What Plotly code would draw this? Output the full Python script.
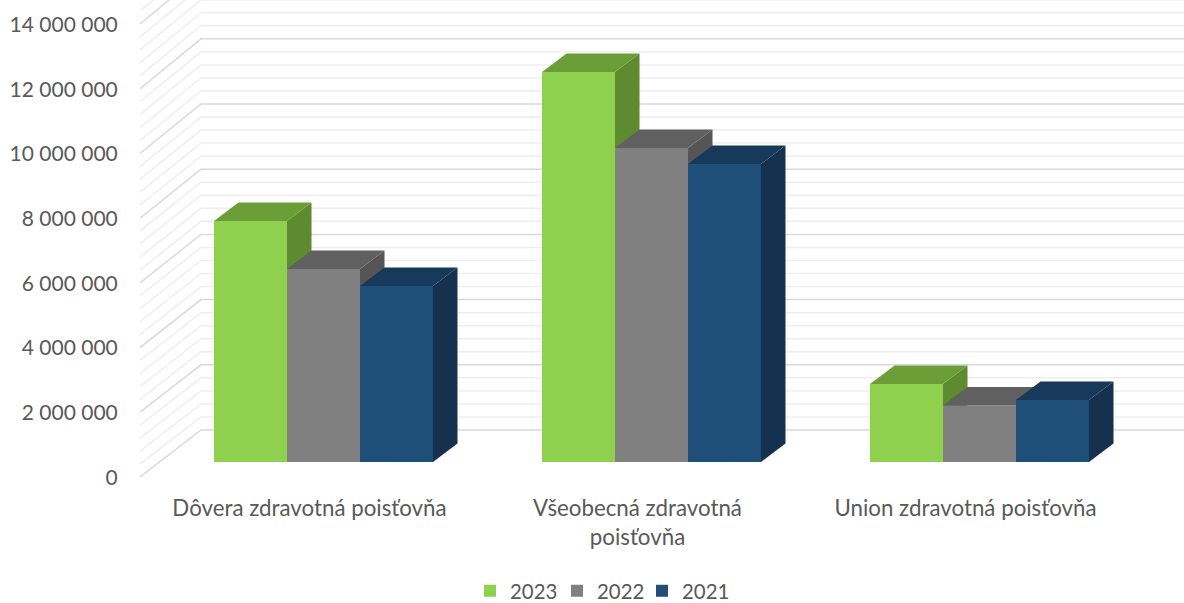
import plotly.graph_objects as go

categories = ["Dôvera zdravotná poisťovňa", "Všeobecná zdravotná<br>poisťovňa", "Union zdravotná poisťovňa"]
series_names = ["2023", "2022", "2021"]
values_2023 = [7390000, 11960000, 2390000]
values_2022 = [5920000, 9630000, 1730000]
values_2021 = [5400000, 9140000, 1900000]
y_ticks = [0, 2000000, 4000000, 6000000, 8000000, 10000000, 12000000, 14000000]
y_tick_labels = ["0", "2 000 000", "4 000 000", "6 000 000", "8 000 000", "10 000 000", "12 000 000", "14 000 000"]
minor_grid = [v for v in range(0, 16000000, 400000) if v % 2000000 != 0]
major_grid = list(range(0, 16000000, 2000000))
front_colors = ["#8FD14F", "#808080", "#1F4E79"]
top_colors = ["#6C9E38", "#606060", "#173A5B"]
side_colors = ["#5E8A30", "#555555", "#15314F"]

W, H = 1184, 603
LEFT, BOTTOM = 140, 480
BAR_SCALE = 32.6 / 1e6    # px per unit on the bars and on the back wall
FRONT_SCALE = 32.36 / 1e6  # px per unit on the value-axis edge
CAT_PX = 328.0

# axis ranges
label_centre = 309.5
bar_centre = 323.5
label_zero = 477.5   # pixel of the value-axis zero, including the label baseline nudge
edge_zero = 477      # pixel where the floor's front edge starts
wall_zero = 430      # pixel of the back wall's zero line
main_x = [(LEFT - label_centre) / CAT_PX, (W - label_centre) / CAT_PX]
bar_x = [(LEFT - bar_centre) / CAT_PX, (W - bar_centre) / CAT_PX]
main_y = [(label_zero - BOTTOM) / FRONT_SCALE, label_zero / FRONT_SCALE]
bar_y = [(462 - BOTTOM) / BAR_SCALE, 462 / BAR_SCALE]

bar_w = 73.0 / CAT_PX
depth_x = 24.5 / CAT_PX
depth_y = 18.5 / BAR_SCALE
wall_x = (201 - label_centre) / CAT_PX

fig = go.Figure()


def grid_trace(levels, colour, width):
    xs, ys = [], []
    for v in levels:
        front = (label_zero - edge_zero) / FRONT_SCALE + v
        back = (label_zero - wall_zero) / FRONT_SCALE + v * BAR_SCALE / FRONT_SCALE
        xs += [main_x[0], wall_x, main_x[1], None]
        ys += [front, back, back, None]
    return go.Scatter(x=xs, y=ys, mode="lines", line=dict(color=colour, width=width),
                      showlegend=False, hoverinfo="skip", xaxis="x", yaxis="y")


fig.add_trace(grid_trace(minor_grid, "#EEEEEE", 1.5))
fig.add_trace(grid_trace(major_grid, "#D9D9D9", 1.5))

all_values = [values_2023, values_2022, values_2021]
legend_ids = ["legend", "legend2", "legend3"]
for s, vals in enumerate(all_values):
    xa, ya = f"x{s + 2}", f"y{s + 2}"
    offset = (-1.5 + s) * bar_w
    fig.add_trace(go.Bar(x=[0, 1, 2], y=vals, name=series_names[s], width=bar_w, offset=offset,
                         marker=dict(color=front_colors[s], line=dict(width=0)),
                         hoverinfo="skip", xaxis=xa, yaxis=ya, legend=legend_ids[s]))
    for c, v in enumerate(vals):
        x0 = c + offset
        x1 = x0 + bar_w
        fig.add_trace(go.Scatter(
            x=[x1, x1 + depth_x, x1 + depth_x, x1, x1],
            y=[0, depth_y, v + depth_y, v, 0],
            mode="lines", line=dict(width=0), fill="toself", fillcolor=side_colors[s],
            showlegend=False, hoverinfo="skip", xaxis=xa, yaxis=ya))
        fig.add_trace(go.Scatter(
            x=[x0, x0 + depth_x, x1 + depth_x, x1, x0],
            y=[v, v + depth_y, v + depth_y, v, v],
            mode="lines", line=dict(width=0), fill="toself", fillcolor=top_colors[s],
            showlegend=False, hoverinfo="skip", xaxis=xa, yaxis=ya))

layout_axes = {}
for s in range(3):
    layout_axes[f"xaxis{s + 2}"] = dict(range=bar_x, overlaying="x", visible=False, fixedrange=True)
    layout_axes[f"yaxis{s + 2}"] = dict(range=bar_y, overlaying="y", visible=False, fixedrange=True)

TEXT = "#595959"
legend_px = [470, 557, 642]
for i, px in enumerate(legend_px):
    layout_axes[legend_ids[i]] = dict(
        orientation="h", xref="container", yref="container", x=px / W, xanchor="left",
        y=1 - 591 / H, yanchor="middle", font=dict(size=20.4, color=TEXT), itemwidth=30,
        bgcolor="rgba(0,0,0,0)")

fig.update_layout(
    width=W, height=H,
    margin=dict(l=LEFT, r=0, t=0, b=H - BOTTOM, pad=0),
    paper_bgcolor="white", plot_bgcolor="white",
    font=dict(family="Lato, Carlito, sans-serif", size=21, color=TEXT),
    barmode="overlay",
    xaxis=dict(range=main_x, tickmode="array", tickvals=[0, 1, 2], ticktext=categories,
               showgrid=False, zeroline=False, showline=False, ticks="outside", ticklen=8,
               tickcolor="rgba(0,0,0,0)", tickfont=dict(size=22.3, color=TEXT), fixedrange=True),
    yaxis=dict(range=main_y, tickmode="array", tickvals=y_ticks, ticktext=y_tick_labels,
               showgrid=False, zeroline=False, showline=False, ticks="outside", ticklen=17,
               tickcolor="rgba(0,0,0,0)", tickfont=dict(size=21, color=TEXT), fixedrange=True),
    showlegend=True,
    **layout_axes,
)

fig.write_html("out.html", post_script="document.body.style.margin='0';", config=dict(displayModeBar=False))
